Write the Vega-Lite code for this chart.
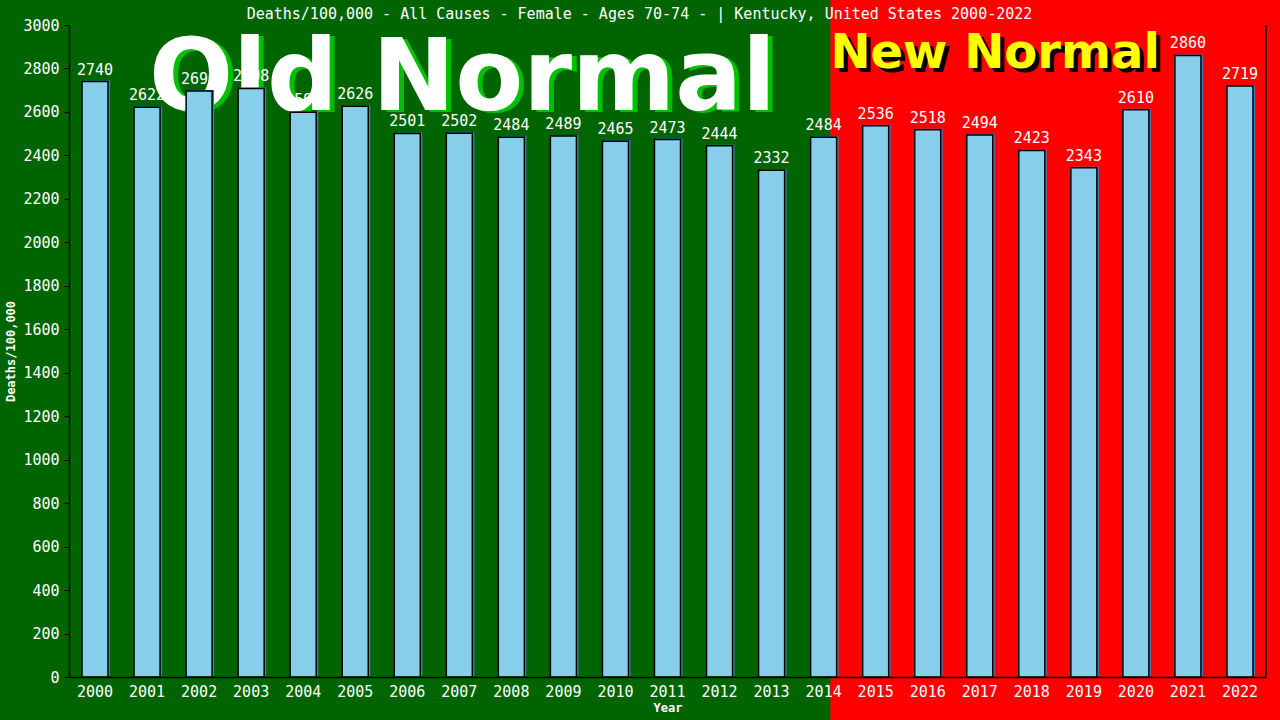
{
  "$schema": "https://vega.github.io/schema/vega-lite/v6.json",
  "description": "Deaths/100,000 - all causes - female 70-74, Kentucky",
  "width": 1197,
  "height": 652,
  "autosize": {"type": "none"},
  "padding": {"left": 69, "top": 25, "right": 14, "bottom": 43},
  "background": "#006400",
  "title": {
    "text": "Deaths/100,000 - All Causes - Female - Ages 70-74 -  | Kentucky, United States 2000-2022",
    "font": "DejaVu Sans Mono",
    "fontSize": 15,
    "fontWeight": "normal",
    "color": "white",
    "anchor": "middle",
    "baseline": "alphabetic",
    "dx": -28,
    "offset": -34
  },
  "datasets": {
    "deaths": [
      {"year": "2000", "rate": 2740},
      {"year": "2001", "rate": 2622},
      {"year": "2002", "rate": 2696},
      {"year": "2003", "rate": 2708},
      {"year": "2004", "rate": 2599},
      {"year": "2005", "rate": 2626},
      {"year": "2006", "rate": 2501},
      {"year": "2007", "rate": 2502},
      {"year": "2008", "rate": 2484},
      {"year": "2009", "rate": 2489},
      {"year": "2010", "rate": 2465},
      {"year": "2011", "rate": 2473},
      {"year": "2012", "rate": 2444},
      {"year": "2013", "rate": 2332},
      {"year": "2014", "rate": 2484},
      {"year": "2015", "rate": 2536},
      {"year": "2016", "rate": 2518},
      {"year": "2017", "rate": 2494},
      {"year": "2018", "rate": 2423},
      {"year": "2019", "rate": 2343},
      {"year": "2020", "rate": 2610},
      {"year": "2021", "rate": 2860},
      {"year": "2022", "rate": 2719}
    ],
    "regions": [
      {"region": "New Normal", "from": 2014.13, "to": 2030, "low": -200, "high": 3116}
    ],
    "oldLabel": [{"label": "Old Normal", "yr": 2007.06, "rate": 2609}],
    "newLabel": [{"label": "New Normal", "yr": 2014.13, "rate": 2802}]
  },
  "layer": [
    {
      "data": {"name": "regions"},
      "mark": {"type": "rect", "fill": "#ff0000"},
      "encoding": {
        "x": {"field": "from", "type": "quantitative", "scale": {"domain": [1999.5, 2022.5], "nice": false, "zero": false}, "axis": null},
        "x2": {"field": "to"},
        "y": {"field": "low", "type": "quantitative"},
        "y2": {"field": "high"}
      }
    },
    {
      "data": {"name": "oldLabel"},
      "mark": {"type": "text", "font": "DejaVu Sans", "fontWeight": "bold", "fontSize": 99, "align": "center", "baseline": "alphabetic", "fill": "#00c000", "dx": 5, "dy": 2},
      "encoding": {
        "x": {"field": "yr", "type": "quantitative", "scale": {"domain": [1999.5, 2022.5], "nice": false, "zero": false}, "axis": null},
        "y": {"field": "rate", "type": "quantitative"},
        "text": {"field": "label"}
      }
    },
    {
      "data": {"name": "oldLabel"},
      "mark": {"type": "text", "font": "DejaVu Sans", "fontWeight": "bold", "fontSize": 99, "align": "center", "baseline": "alphabetic", "fill": "white"},
      "encoding": {
        "x": {"field": "yr", "type": "quantitative", "scale": {"domain": [1999.5, 2022.5], "nice": false, "zero": false}, "axis": null},
        "y": {"field": "rate", "type": "quantitative"},
        "text": {"field": "label"}
      }
    },
    {
      "data": {"name": "newLabel"},
      "mark": {"type": "text", "font": "DejaVu Sans", "fontWeight": "bold", "fontSize": 48, "align": "left", "baseline": "alphabetic", "fill": "black", "dx": 4, "dy": 4},
      "encoding": {
        "x": {"field": "yr", "type": "quantitative", "scale": {"domain": [1999.5, 2022.5], "nice": false, "zero": false}, "axis": null},
        "y": {"field": "rate", "type": "quantitative"},
        "text": {"field": "label"}
      }
    },
    {
      "data": {"name": "newLabel"},
      "mark": {"type": "text", "font": "DejaVu Sans", "fontWeight": "bold", "fontSize": 48, "align": "left", "baseline": "alphabetic", "fill": "#ffff00"},
      "encoding": {
        "x": {"field": "yr", "type": "quantitative", "scale": {"domain": [1999.5, 2022.5], "nice": false, "zero": false}, "axis": null},
        "y": {"field": "rate", "type": "quantitative"},
        "text": {"field": "label"}
      }
    },
    {
      "data": {"name": "deaths"},
      "encoding": {
        "x": {
          "field": "year",
          "type": "ordinal",
          "title": "Year",
          "scale": {"paddingInner": 0.5, "paddingOuter": 0.25},
          "axis": {
            "zindex": 1,
            "labelAngle": 0,
            "ticks": false,
            "tickSize": 0,
            "labelPadding": 7,
            "labelFont": "DejaVu Sans Mono",
            "labelFontSize": 15,
            "labelColor": "white",
            "domainColor": "black",
            "domainWidth": 1.5,
            "titleFont": "DejaVu Sans Mono",
            "titleFontSize": 12,
            "titleFontWeight": "bold",
            "titleColor": "white",
            "titlePadding": 3
          }
        },
        "y": {
          "field": "rate",
          "type": "quantitative",
          "title": "Deaths/100,000",
          "scale": {"domain": [0, 3000], "nice": false},
          "axis": {
            "zindex": 1,
            "format": "d",
            "values": [0, 200, 400, 600, 800, 1000, 1200, 1400, 1600, 1800, 2000, 2200, 2400, 2600, 2800, 3000],
            "grid": false,
            "tickSize": 5,
            "tickColor": "black",
            "labelPadding": 5,
            "labelFont": "DejaVu Sans Mono",
            "labelFontSize": 15,
            "labelColor": "white",
            "domainColor": "black",
            "domainWidth": 1.5,
            "titleFont": "DejaVu Sans Mono",
            "titleFontSize": 12,
            "titleFontWeight": "bold",
            "titleColor": "white",
            "titlePadding": 5
          }
        }
      },
      "layer": [
        {"mark": {"type": "bar", "fill": "#3a80c4", "xOffset": 2, "yOffset": -1}},
        {"mark": {"type": "bar", "fill": "#87ceeb", "stroke": "black", "strokeWidth": 1.5}},
        {
          "mark": {"type": "text", "baseline": "bottom", "dy": -4, "font": "DejaVu Sans Mono", "fontSize": 15, "fill": "white"},
          "encoding": {"text": {"field": "rate", "type": "quantitative"}}
        }
      ]
    },
    {
      "data": {"name": "regions"},
      "mark": {"type": "rule", "stroke": "black", "strokeWidth": 1.5},
      "encoding": {
        "x": {"datum": 2022.5, "type": "quantitative", "scale": {"domain": [1999.5, 2022.5], "nice": false, "zero": false}, "axis": null},
        "y": {"datum": 0, "type": "quantitative"},
        "y2": {"datum": 3000}
      }
    }
  ],
  "resolve": {"scale": {"x": "independent"}},
  "config": {"view": {"stroke": null}}
}
